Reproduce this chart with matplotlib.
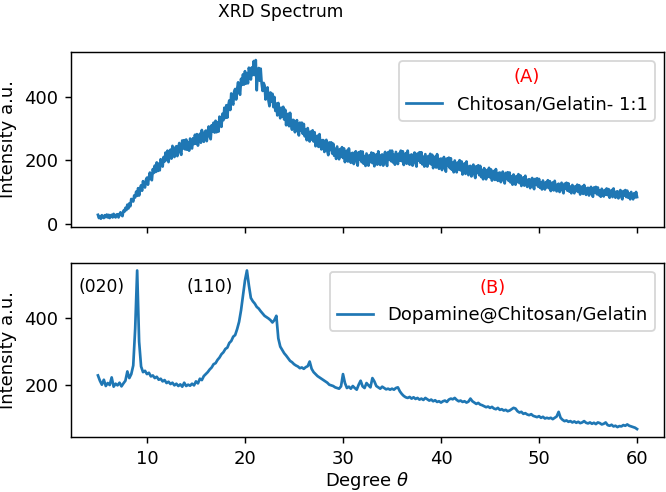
import numpy as np
import matplotlib
matplotlib.use("Agg")
import matplotlib.pyplot as plt

# Sampling grids of 2theta (degrees)
degree_a = np.linspace(5.0, 60.0, 551)   # 0.1 deg step
degree_b = np.linspace(5.0, 60.0, 276)   # 0.2 deg step

# (A) Chitosan/Gelatin- 1:1 (one row per degree)
intensity_a = [
    28, 18, 24, 16, 27, 22, 18, 27, 21, 29,
    20, 28, 18, 26, 28, 20, 31, 23, 20, 29,
    30, 20, 30, 36, 27, 24, 41, 38, 50, 43,
    60, 48, 64, 55, 78, 75, 70, 89, 83, 101,
    88, 112, 89, 111, 121, 104, 134, 119, 114, 138,
    145, 123, 146, 161, 141, 137, 172, 160, 183, 163,
    193, 166, 189, 168, 203, 193, 180, 210, 196, 224,
    200, 230, 194, 223, 233, 205, 245, 219, 210, 240,
    244, 213, 239, 254, 225, 217, 262, 237, 263, 234,
    265, 233, 256, 230, 268, 253, 237, 269, 251, 280,
    252, 282, 246, 273, 283, 255, 295, 269, 258, 288,
    293, 260, 288, 306, 275, 266, 310, 290, 318, 287,
    324, 288, 319, 290, 337, 322, 305, 346, 326, 365,
    333, 373, 334, 372, 388, 358, 410, 383, 375, 416,
    424, 391, 424, 445, 414, 406, 456, 437, 470, 438,
    480, 441, 473, 442, 491, 475, 454, 492, 468, 512,
    468, 515, 420, 482, 490, 450, 488, 442, 418, 443,
    435, 391, 416, 429, 387, 370, 413, 384, 409, 367,
    399, 355, 378, 341, 380, 358, 332, 365, 337, 368,
    328, 359, 310, 339, 346, 307, 349, 313, 296, 327,
    325, 288, 312, 326, 291, 278, 318, 294, 318, 283,
    314, 275, 296, 263, 301, 281, 259, 290, 265, 294,
    259, 288, 244, 271, 277, 242, 282, 249, 234, 263,
    263, 226, 250, 264, 229, 216, 256, 232, 256, 221,
    252, 214, 236, 204, 243, 224, 203, 235, 211, 241,
    207, 237, 194, 222, 230, 196, 237, 206, 192, 222,
    223, 188, 213, 228, 195, 183, 225, 202, 228, 194,
    227, 189, 213, 182, 221, 203, 183, 216, 194, 224,
    191, 222, 181, 210, 218, 186, 228, 197, 185, 216,
    218, 183, 210, 226, 193, 182, 225, 203, 230, 197,
    230, 193, 217, 186, 226, 208, 188, 221, 199, 230,
    197, 228, 185, 214, 222, 189, 230, 199, 186, 216,
    218, 183, 209, 224, 191, 180, 221, 199, 225, 192,
    225, 187, 211, 180, 219, 200, 180, 213, 190, 220,
    187, 217, 175, 203, 211, 177, 219, 187, 173, 204,
    205, 169, 195, 210, 176, 164, 205, 183, 208, 175,
    206, 170, 192, 162, 199, 181, 162, 193, 171, 200,
    168, 196, 155, 182, 190, 157, 196, 166, 153, 181,
    182, 149, 172, 186, 155, 144, 181, 160, 184, 153,
    182, 147, 169, 140, 175, 159, 140, 169, 148, 176,
    146, 171, 136, 159, 166, 138, 172, 146, 135, 160,
    161, 131, 152, 164, 136, 127, 160, 141, 162, 135,
    161, 130, 149, 123, 155, 140, 123, 150, 131, 156,
    128, 152, 119, 140, 146, 120, 151, 127, 116, 139,
    140, 112, 132, 144, 118, 109, 141, 123, 143, 117,
    141, 113, 130, 108, 136, 122, 108, 131, 115, 137,
    112, 134, 103, 124, 130, 105, 135, 112, 102, 124,
    126, 100, 118, 129, 105, 96, 126, 110, 129, 104,
    127, 101, 117, 96, 122, 110, 96, 118, 103, 123,
    100, 121, 92, 111, 117, 94, 122, 101, 91, 112,
    113, 89, 106, 116, 93, 85, 114, 98, 116, 93,
    114, 90, 105, 85, 110, 98, 86, 106, 92, 111,
    90, 109, 82, 100, 106, 84, 111, 91, 82, 101,
    102, 80, 96, 106, 84, 77, 103, 89, 106, 84,
    104, 82, 95, 77, 100, 89, 77, 96, 83, 100,
    84,
]

# (B) Dopamine@Chitosan/Gelatin
intensity_b = [
    228, 212, 200, 215, 196, 205, 199, 222, 194, 203,
    198, 206, 195, 204, 212, 240, 220, 232, 258, 370,
    545, 330, 255, 238, 242, 232, 236, 225, 228, 220,
    224, 215, 218, 210, 214, 205, 209, 202, 206, 198,
    203, 196, 201, 194, 206, 196, 200, 197, 203, 198,
    210, 204, 218, 214, 226, 232, 238, 246, 252, 262,
    265, 275, 282, 292, 298, 308, 312, 326, 332, 345,
    350, 368, 390, 425, 470, 515, 545, 500, 462, 452,
    445, 435, 430, 422, 415, 408, 404, 400, 395, 388,
    395, 408, 340, 315, 305, 295, 288, 280, 272, 268,
    262, 258, 255, 250, 252, 248, 253, 256, 270, 248,
    238, 232, 226, 222, 218, 214, 210, 206, 200, 198,
    196, 192, 190, 188, 195, 232, 205, 190, 194, 188,
    196, 190, 185, 200, 212, 195, 190, 205, 198, 192,
    220, 210, 196, 192, 188, 194, 190, 186, 188, 185,
    188, 185, 190, 192, 180, 172, 166, 162, 160, 163,
    158, 162, 157, 160, 155, 158, 154, 160, 156, 152,
    155, 150, 153, 148, 150, 146, 150, 152, 148, 155,
    158, 156, 160, 154, 150, 152, 148, 150, 146, 149,
    158, 150, 146, 142, 145, 140, 138, 135, 132, 134,
    130, 133, 128, 126, 130, 124, 126, 122, 124, 120,
    122, 126, 130, 128, 120, 116, 118, 112, 114, 110,
    108, 111, 106, 104, 102, 105, 100, 103, 98, 100,
    98, 100, 96, 100, 104, 118, 100, 94, 90, 92,
    88, 90, 86, 89, 85, 88, 84, 86, 90, 85,
    83, 86, 82, 85, 81, 86, 84, 80, 82, 86,
    78, 76, 79, 74, 76, 72, 75, 74, 78, 76,
    80, 76, 74, 72, 70, 66,
]

label_a = "Chitosan/Gelatin- 1:1"
label_b = "Dopamine@Chitosan/Gelatin"
title_a = "(A)"
title_b = "(B)"
peak_labels = ["(020)", "(110)"]
peak_label_x = [5.4, 16.4]
peak_label_y = [495, 495]

DPI = 130
fig, (ax1, ax2) = plt.subplots(2, 1, sharex=True, figsize=(666 / DPI, 492 / DPI), dpi=DPI)
fig.subplots_adjust(left=0.1066, right=0.997, top=0.894, bottom=0.1118, hspace=0.206)

ax1.plot(degree_a, intensity_a, color="#1f77b4", lw=1.5, label=label_a)
leg1 = ax1.legend(loc="upper right", title=title_a)
leg1.get_title().set_color("red")
ax1.set_ylabel("Intensity a.u.")

ax2.plot(degree_b, intensity_b, color="#1f77b4", lw=1.5, label=label_b)
leg2 = ax2.legend(loc="upper right", title=title_b)
leg2.get_title().set_color("red")
ax2.set_ylabel("Intensity a.u.")
ax2.set_xlabel(r"Degree $\theta$", labelpad=1.5)
for t, x, y in zip(peak_labels, peak_label_x, peak_label_y):
    ax2.text(x, y, t, ha="center", va="center", fontsize=9.5)

fig.suptitle("XRD Spectrum", x=0.422, y=0.975, va="center", fontsize=9.5)

fig.savefig("out.png", dpi=DPI)
